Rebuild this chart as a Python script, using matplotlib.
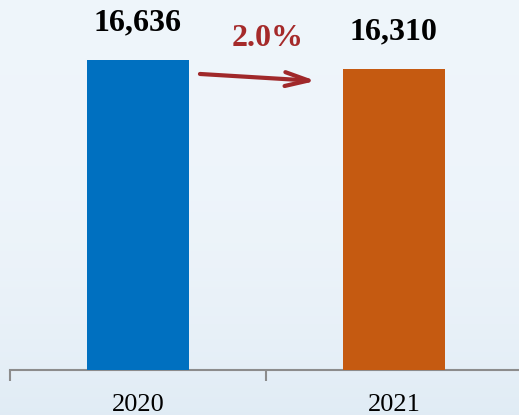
import numpy as np
import matplotlib
matplotlib.use("Agg")
import matplotlib.pyplot as plt

years = ["2020", "2021"]
values = [16636, 16310]
value_labels = ["16,636", "16,310"]
change_label = "2.0%"
bar_colors = ["#0070C0", "#C55A11"]

W, H, DPI = 519, 415, 100
fig = plt.figure(figsize=(W / DPI, H / DPI), dpi=DPI)

# background gradient
bg = fig.add_axes([0, 0, 1, 1], zorder=-10)
grad = np.linspace(0, 1, 256).reshape(-1, 1)
top = np.array([0.937, 0.961, 0.984])
bot = np.array([0.880, 0.925, 0.960])
img = top + (bot - top) * (grad ** 3)[..., None]
img = np.repeat(img, 2, axis=1)
bg.imshow(img, aspect="auto", extent=[0, 1, 0, 1])
bg.axis("off")

serif = ["Liberation Serif", "DejaVu Serif"]

ax = fig.add_axes([10 / W, (H - 370) / H, 512 / W, 370 / H])
ax.patch.set_alpha(0)
x = np.arange(len(years))
ax.bar(x, values, width=0.402, color=bar_colors, zorder=3)
ax.set_xlim(-0.5, 1.5)
ax.set_ylim(5407, 18808)

for xi, v, lab in zip(x, values, value_labels):
    ax.annotate(lab, (xi, v), xytext=(-1, 37), textcoords="offset pixels",
                ha="center", va="center", fontsize=23, fontweight="bold",
                family=serif, color="black")

# arrow and change label
ax.annotate("", xy=(0.695, 15876), xytext=(0.242, 16129),
            arrowprops=dict(arrowstyle="->,head_length=1.7,head_width=0.5",
                            color="#A0282A", lw=3.0, shrinkA=0, shrinkB=0))
ax.text(0.508, 17431, change_label, ha="center", va="center", fontsize=23,
        fontweight="bold", family=serif, color="#A52A2A")

for s in ["left", "right", "top"]:
    ax.spines[s].set_visible(False)
ax.spines["bottom"].set_color("#8c8c8c")
ax.spines["bottom"].set_linewidth(1.5)
ax.set_yticks([])
ax.set_xticks(x)
ax.set_xticklabels(years, family=serif, fontsize=19)
ax.tick_params(axis="x", which="major", length=0, pad=17)
ax.set_xticks([-0.5, 0.5, 1.5], minor=True)
ax.tick_params(axis="x", which="minor", length=8, width=1.5, color="#8c8c8c")

fig.savefig("out.png", dpi=DPI)
